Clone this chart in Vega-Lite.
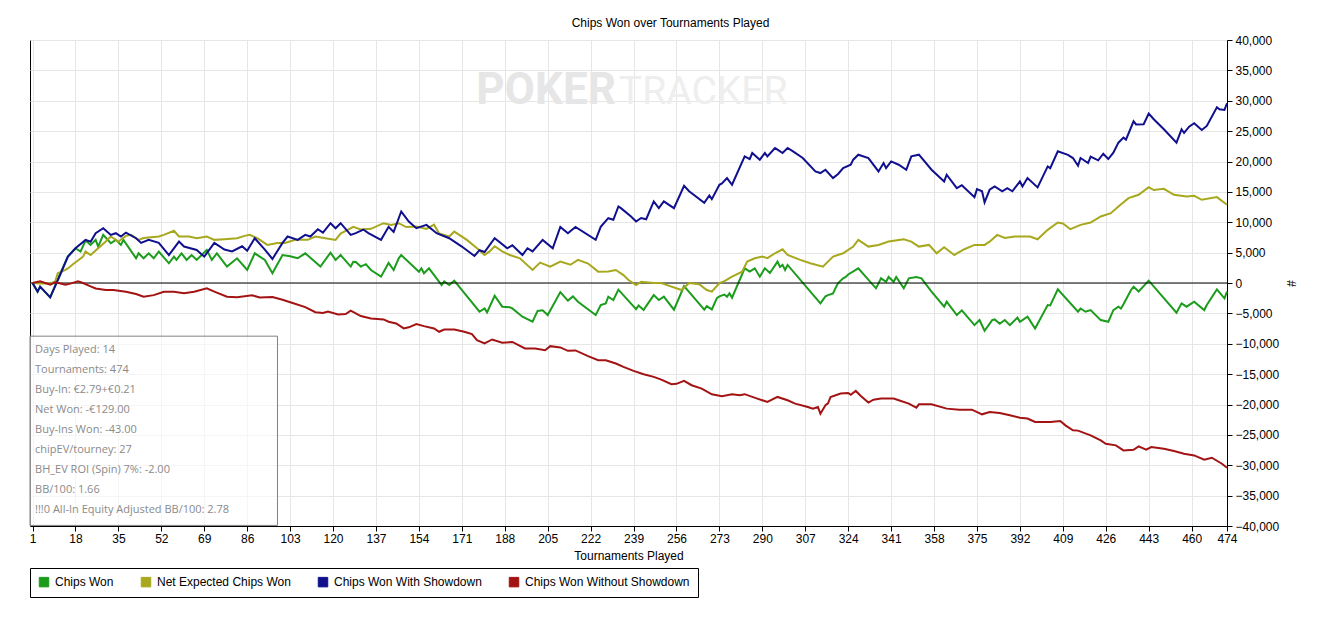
{
  "$schema": "https://vega.github.io/schema/vega-lite/v6.json",
  "width": 1197,
  "height": 486,
  "autosize": "none",
  "padding": {"left": 30, "top": 40, "right": 98, "bottom": 91},
  "background": "white",
  "title": {
    "text": "Chips Won over Tournaments Played",
    "font": "Liberation Sans",
    "fontSize": 12,
    "fontWeight": "normal",
    "color": "black",
    "offset": 4,
    "dx": 42
  },
  "datasets": {
    "won": [
      {"t":1,"chips":0},{"t":3,"chips":-1430},{"t":4,"chips":-600},{"t":8,"chips":-2360},{"t":12,"chips":1600},{"t":15,"chips":4340},{"t":18,"chips":5720},{"t":20,"chips":5170},{"t":22,"chips":6990},{"t":24,"chips":6270},{"t":26,"chips":7100},{"t":27,"chips":5990},{"t":29,"chips":7920},{"t":32,"chips":6545},{"t":34,"chips":7100},{"t":36,"chips":6270},{"t":37,"chips":7100},{"t":42,"chips":4070},{"t":43,"chips":4890},{"t":45,"chips":4070},{"t":47,"chips":4890},{"t":49,"chips":4070},{"t":51,"chips":5170},{"t":55,"chips":3245},{"t":57,"chips":4340},{"t":58,"chips":3800},{"t":60,"chips":4890},{"t":62,"chips":3800},{"t":64,"chips":4600},{"t":66,"chips":3800},{"t":70,"chips":5445},{"t":72,"chips":3800},{"t":74,"chips":4890},{"t":78,"chips":2700},{"t":82,"chips":4070},{"t":86,"chips":2145},{"t":89,"chips":4890},{"t":93,"chips":3800},{"t":96,"chips":1600},{"t":100,"chips":4600},{"t":103,"chips":4400},{"t":106,"chips":4070},{"t":109,"chips":4890},{"t":115,"chips":2700},{"t":119,"chips":5000},{"t":121,"chips":3800},{"t":123,"chips":4600},{"t":127,"chips":2700},{"t":128,"chips":3500},{"t":129,"chips":3450},{"t":131,"chips":2700},{"t":133,"chips":3100},{"t":135,"chips":2145},{"t":139,"chips":1045},{"t":142,"chips":3300},{"t":144,"chips":2145},{"t":146,"chips":4070},{"t":147,"chips":4600},{"t":154,"chips":1870},{"t":155,"chips":2420},{"t":156,"chips":1600},{"t":158,"chips":2420},{"t":163,"chips":-330},{"t":164,"chips":250},{"t":166,"chips":-330},{"t":168,"chips":385},{"t":178,"chips":-4730},{"t":180,"chips":-4180},{"t":181,"chips":-4840},{"t":184,"chips":-2100},{"t":187,"chips":-3900},{"t":190,"chips":-4000},{"t":191,"chips":-4180},{"t":195,"chips":-5555},{"t":199,"chips":-6380},{"t":201,"chips":-4600},{"t":203,"chips":-4500},{"t":205,"chips":-5280},{"t":210,"chips":-1500},{"t":213,"chips":-2900},{"t":215,"chips":-2200},{"t":217,"chips":-3080},{"t":224,"chips":-5280},{"t":226,"chips":-3630},{"t":228,"chips":-3350},{"t":229,"chips":-2255},{"t":231,"chips":-2800},{"t":233,"chips":-1100},{"t":240,"chips":-4300},{"t":241,"chips":-3700},{"t":243,"chips":-4455},{"t":244,"chips":-3800},{"t":247,"chips":-2000},{"t":249,"chips":-2800},{"t":251,"chips":-2255},{"t":255,"chips":-4400},{"t":259,"chips":-495},{"t":267,"chips":-4400},{"t":268,"chips":-3800},{"t":270,"chips":-4345},{"t":272,"chips":-2480},{"t":273,"chips":-2200},{"t":275,"chips":-1900},{"t":276,"chips":-2255},{"t":277,"chips":-1700},{"t":278,"chips":-2420},{"t":283,"chips":2420},{"t":285,"chips":1870},{"t":287,"chips":2420},{"t":289,"chips":1045},{"t":291,"chips":2420},{"t":293,"chips":1650},{"t":296,"chips":3520},{"t":297,"chips":2640},{"t":298,"chips":3000},{"t":299,"chips":2145},{"t":300,"chips":2970},{"t":313,"chips":-3355},{"t":315,"chips":-2200},{"t":316,"chips":-2000},{"t":318,"chips":-1700},{"t":319,"chips":-800},{"t":320,"chips":0},{"t":322,"chips":770},{"t":323,"chips":1000},{"t":324,"chips":1400},{"t":328,"chips":2420},{"t":335,"chips":-880},{"t":337,"chips":770},{"t":339,"chips":200},{"t":340,"chips":1000},{"t":342,"chips":200},{"t":343,"chips":1000},{"t":346,"chips":-880},{"t":348,"chips":770},{"t":351,"chips":990},{"t":353,"chips":770},{"t":357,"chips":-1430},{"t":362,"chips":-3905},{"t":363,"chips":-3080},{"t":367,"chips":-5280},{"t":369,"chips":-4500},{"t":374,"chips":-6930},{"t":376,"chips":-6100},{"t":378,"chips":-7865},{"t":381,"chips":-6105},{"t":382,"chips":-6000},{"t":384,"chips":-6700},{"t":386,"chips":-6100},{"t":388,"chips":-6930},{"t":391,"chips":-5700},{"t":392,"chips":-6400},{"t":395,"chips":-5555},{"t":398,"chips":-7480},{"t":403,"chips":-3630},{"t":404,"chips":-3700},{"t":407,"chips":-1045},{"t":415,"chips":-4730},{"t":416,"chips":-4200},{"t":418,"chips":-4730},{"t":420,"chips":-4455},{"t":424,"chips":-6105},{"t":427,"chips":-6380},{"t":429,"chips":-4455},{"t":431,"chips":-3900},{"t":432,"chips":-4200},{"t":433,"chips":-3500},{"t":436,"chips":-1155},{"t":437,"chips":-600},{"t":439,"chips":-1400},{"t":443,"chips":385},{"t":454,"chips":-4895},{"t":456,"chips":-3350},{"t":458,"chips":-3900},{"t":461,"chips":-3080},{"t":465,"chips":-4455},{"t":466,"chips":-3630},{"t":470,"chips":-1045},{"t":473,"chips":-2530},{"t":474,"chips":-1430}
    ],
    "ev": [
      {"t":1,"chips":0},{"t":4,"chips":-100},{"t":8,"chips":-100},{"t":10,"chips":275},{"t":11,"chips":1600},{"t":14,"chips":2145},{"t":15,"chips":2400},{"t":17,"chips":3080},{"t":19,"chips":3700},{"t":21,"chips":4340},{"t":22,"chips":5170},{"t":24,"chips":4600},{"t":27,"chips":5720},{"t":30,"chips":6820},{"t":32,"chips":7650},{"t":35,"chips":6820},{"t":38,"chips":7755},{"t":40,"chips":7920},{"t":43,"chips":7100},{"t":45,"chips":7400},{"t":51,"chips":7650},{"t":53,"chips":7920},{"t":57,"chips":8600},{"t":59,"chips":7650},{"t":63,"chips":7650},{"t":66,"chips":7370},{"t":70,"chips":7650},{"t":73,"chips":7100},{"t":77,"chips":7200},{"t":82,"chips":7370},{"t":85,"chips":7755},{"t":87,"chips":7920},{"t":90,"chips":7370},{"t":94,"chips":6270},{"t":98,"chips":6600},{"t":101,"chips":6600},{"t":105,"chips":7100},{"t":110,"chips":7100},{"t":113,"chips":7650},{"t":117,"chips":7370},{"t":121,"chips":7100},{"t":123,"chips":8140},{"t":128,"chips":9240},{"t":131,"chips":8800},{"t":135,"chips":8910},{"t":140,"chips":9845},{"t":143,"chips":9570},{"t":146,"chips":9845},{"t":149,"chips":9200},{"t":153,"chips":9300},{"t":157,"chips":8910},{"t":160,"chips":9600},{"t":162,"chips":8140},{"t":166,"chips":7650},{"t":168,"chips":8470},{"t":173,"chips":7100},{"t":177,"chips":5720},{"t":180,"chips":4600},{"t":182,"chips":5200},{"t":184,"chips":6050},{"t":187,"chips":5200},{"t":190,"chips":4600},{"t":194,"chips":4070},{"t":199,"chips":2145},{"t":202,"chips":3355},{"t":206,"chips":2700},{"t":210,"chips":3520},{"t":214,"chips":3000},{"t":217,"chips":3800},{"t":221,"chips":3200},{"t":225,"chips":1870},{"t":229,"chips":1900},{"t":232,"chips":2145},{"t":235,"chips":1300},{"t":237,"chips":495},{"t":240,"chips":-330},{"t":242,"chips":200},{"t":247,"chips":0},{"t":250,"chips":0},{"t":252,"chips":-300},{"t":258,"chips":-1155},{"t":261,"chips":0},{"t":265,"chips":-200},{"t":268,"chips":-1155},{"t":270,"chips":-1430},{"t":273,"chips":0},{"t":275,"chips":300},{"t":278,"chips":1045},{"t":282,"chips":1870},{"t":284,"chips":3520},{"t":287,"chips":4070},{"t":290,"chips":4345},{"t":292,"chips":4100},{"t":295,"chips":4895},{"t":298,"chips":5555},{"t":300,"chips":4620},{"t":305,"chips":3800},{"t":309,"chips":3245},{"t":314,"chips":2700},{"t":318,"chips":4345},{"t":322,"chips":4900},{"t":326,"chips":5995},{"t":328,"chips":7095},{"t":332,"chips":5995},{"t":336,"chips":6270},{"t":340,"chips":6820},{"t":346,"chips":7200},{"t":349,"chips":6820},{"t":352,"chips":5995},{"t":356,"chips":6270},{"t":359,"chips":4895},{"t":362,"chips":5885},{"t":366,"chips":4620},{"t":370,"chips":5555},{"t":374,"chips":6270},{"t":378,"chips":6270},{"t":380,"chips":6800},{"t":383,"chips":7920},{"t":386,"chips":7400},{"t":390,"chips":7650},{"t":396,"chips":7650},{"t":399,"chips":7205},{"t":403,"chips":8745},{"t":407,"chips":9955},{"t":409,"chips":9800},{"t":412,"chips":8855},{"t":416,"chips":9570},{"t":420,"chips":9955},{"t":424,"chips":10945},{"t":428,"chips":11495},{"t":431,"chips":12595},{"t":435,"chips":13970},{"t":439,"chips":14520},{"t":443,"chips":15785},{"t":445,"chips":15300},{"t":449,"chips":15500},{"t":453,"chips":14520},{"t":458,"chips":14245},{"t":461,"chips":14350},{"t":464,"chips":13695},{"t":470,"chips":14135},{"t":474,"chips":12870}
    ],
    "sd": [
      {"t":1,"chips":0},{"t":3,"chips":-1430},{"t":4,"chips":-600},{"t":8,"chips":-2360},{"t":12,"chips":1400},{"t":15,"chips":4340},{"t":18,"chips":5720},{"t":22,"chips":7100},{"t":24,"chips":6800},{"t":26,"chips":8200},{"t":29,"chips":9020},{"t":32,"chips":7920},{"t":34,"chips":8200},{"t":36,"chips":7650},{"t":38,"chips":8300},{"t":42,"chips":7370},{"t":44,"chips":6600},{"t":47,"chips":7100},{"t":51,"chips":6600},{"t":55,"chips":4600},{"t":59,"chips":6820},{"t":61,"chips":6000},{"t":66,"chips":5445},{"t":69,"chips":4340},{"t":73,"chips":6600},{"t":77,"chips":5500},{"t":80,"chips":5200},{"t":84,"chips":6050},{"t":86,"chips":5300},{"t":89,"chips":7370},{"t":93,"chips":5500},{"t":96,"chips":3960},{"t":100,"chips":6600},{"t":102,"chips":7650},{"t":106,"chips":7100},{"t":109,"chips":7920},{"t":111,"chips":7650},{"t":114,"chips":8855},{"t":116,"chips":8300},{"t":119,"chips":9845},{"t":121,"chips":9000},{"t":123,"chips":9845},{"t":127,"chips":7920},{"t":129,"chips":8200},{"t":132,"chips":8800},{"t":134,"chips":8200},{"t":139,"chips":7100},{"t":142,"chips":9240},{"t":144,"chips":8400},{"t":147,"chips":11770},{"t":148,"chips":11200},{"t":150,"chips":10120},{"t":153,"chips":9020},{"t":157,"chips":9570},{"t":161,"chips":8200},{"t":166,"chips":7370},{"t":171,"chips":6000},{"t":176,"chips":4455},{"t":178,"chips":5400},{"t":180,"chips":5100},{"t":184,"chips":7370},{"t":189,"chips":5720},{"t":191,"chips":6200},{"t":195,"chips":4600},{"t":197,"chips":5720},{"t":199,"chips":5200},{"t":203,"chips":7100},{"t":207,"chips":5720},{"t":210,"chips":9240},{"t":213,"chips":8200},{"t":216,"chips":9240},{"t":224,"chips":7100},{"t":226,"chips":9240},{"t":229,"chips":10670},{"t":231,"chips":10400},{"t":233,"chips":12595},{"t":234,"chips":12320},{"t":238,"chips":10945},{"t":240,"chips":10120},{"t":242,"chips":10700},{"t":244,"chips":10500},{"t":247,"chips":13420},{"t":249,"chips":12320},{"t":251,"chips":13420},{"t":255,"chips":12320},{"t":259,"chips":15995},{"t":261,"chips":15100},{"t":267,"chips":13200},{"t":269,"chips":14400},{"t":270,"chips":13800},{"t":273,"chips":16170},{"t":274,"chips":16400},{"t":276,"chips":17270},{"t":278,"chips":16170},{"t":283,"chips":20845},{"t":285,"chips":20400},{"t":286,"chips":21395},{"t":289,"chips":20295},{"t":291,"chips":21395},{"t":292,"chips":20845},{"t":295,"chips":22220},{"t":296,"chips":21950},{"t":298,"chips":21395},{"t":300,"chips":22220},{"t":302,"chips":21700},{"t":306,"chips":20570},{"t":311,"chips":18370},{"t":313,"chips":18095},{"t":315,"chips":18645},{"t":318,"chips":17270},{"t":320,"chips":17950},{"t":322,"chips":18920},{"t":325,"chips":19470},{"t":326,"chips":20300},{"t":328,"chips":21120},{"t":332,"chips":20570},{"t":336,"chips":18370},{"t":338,"chips":19745},{"t":339,"chips":18900},{"t":341,"chips":20020},{"t":344,"chips":19470},{"t":347,"chips":18645},{"t":349,"chips":20845},{"t":352,"chips":21120},{"t":357,"chips":18645},{"t":362,"chips":16720},{"t":363,"chips":17820},{"t":367,"chips":15620},{"t":369,"chips":16100},{"t":374,"chips":14135},{"t":375,"chips":15455},{"t":377,"chips":15100},{"t":378,"chips":13255},{"t":380,"chips":15345},{"t":382,"chips":15895},{"t":385,"chips":15100},{"t":387,"chips":15620},{"t":389,"chips":15100},{"t":392,"chips":16720},{"t":393,"chips":15900},{"t":395,"chips":17270},{"t":399,"chips":15730},{"t":403,"chips":19195},{"t":404,"chips":18900},{"t":407,"chips":21670},{"t":411,"chips":21100},{"t":413,"chips":20570},{"t":415,"chips":19305},{"t":416,"chips":20570},{"t":419,"chips":19745},{"t":420,"chips":20800},{"t":423,"chips":20200},{"t":425,"chips":21285},{"t":427,"chips":20405},{"t":429,"chips":21450},{"t":431,"chips":23100},{"t":433,"chips":23925},{"t":434,"chips":23600},{"t":437,"chips":26620},{"t":438,"chips":26100},{"t":441,"chips":26125},{"t":443,"chips":27885},{"t":445,"chips":26950},{"t":449,"chips":25300},{"t":454,"chips":23100},{"t":456,"chips":25300},{"t":457,"chips":24700},{"t":459,"chips":25740},{"t":461,"chips":26290},{"t":464,"chips":25190},{"t":466,"chips":25850},{"t":470,"chips":28930},{"t":471,"chips":28600},{"t":473,"chips":28490},{"t":474,"chips":29590}
    ],
    "nosd": [
      {"t":1,"chips":0},{"t":4,"chips":275},{"t":8,"chips":-275},{"t":10,"chips":100},{"t":14,"chips":-275},{"t":16,"chips":-100},{"t":19,"chips":275},{"t":21,"chips":0},{"t":24,"chips":-550},{"t":26,"chips":-900},{"t":30,"chips":-1155},{"t":33,"chips":-1155},{"t":38,"chips":-1430},{"t":42,"chips":-1815},{"t":45,"chips":-2255},{"t":49,"chips":-2000},{"t":53,"chips":-1430},{"t":57,"chips":-1430},{"t":61,"chips":-1705},{"t":65,"chips":-1430},{"t":70,"chips":-880},{"t":73,"chips":-1430},{"t":78,"chips":-2255},{"t":82,"chips":-2350},{"t":88,"chips":-2035},{"t":91,"chips":-2400},{"t":96,"chips":-2310},{"t":100,"chips":-2750},{"t":104,"chips":-3300},{"t":109,"chips":-3960},{"t":113,"chips":-4800},{"t":116,"chips":-4950},{"t":118,"chips":-4700},{"t":122,"chips":-5170},{"t":125,"chips":-5100},{"t":127,"chips":-4565},{"t":131,"chips":-5445},{"t":135,"chips":-5830},{"t":140,"chips":-6000},{"t":142,"chips":-6380},{"t":145,"chips":-6655},{"t":148,"chips":-7480},{"t":150,"chips":-7300},{"t":153,"chips":-6765},{"t":156,"chips":-7100},{"t":160,"chips":-7480},{"t":162,"chips":-8030},{"t":164,"chips":-7650},{"t":168,"chips":-7650},{"t":172,"chips":-8030},{"t":175,"chips":-8415},{"t":177,"chips":-9405},{"t":180,"chips":-9955},{"t":183,"chips":-9295},{"t":187,"chips":-9845},{"t":191,"chips":-9700},{"t":196,"chips":-10780},{"t":200,"chips":-10780},{"t":204,"chips":-11055},{"t":206,"chips":-10395},{"t":210,"chips":-10600},{"t":213,"chips":-11165},{"t":216,"chips":-11100},{"t":221,"chips":-12045},{"t":225,"chips":-12705},{"t":228,"chips":-12705},{"t":232,"chips":-13255},{"t":235,"chips":-13805},{"t":239,"chips":-14465},{"t":243,"chips":-15015},{"t":247,"chips":-15455},{"t":250,"chips":-15895},{"t":254,"chips":-16665},{"t":256,"chips":-16600},{"t":259,"chips":-16115},{"t":262,"chips":-16830},{"t":266,"chips":-17380},{"t":270,"chips":-18315},{"t":274,"chips":-18645},{"t":278,"chips":-18315},{"t":281,"chips":-18480},{"t":283,"chips":-18300},{"t":288,"chips":-19030},{"t":292,"chips":-19580},{"t":296,"chips":-18755},{"t":300,"chips":-19305},{"t":303,"chips":-19855},{"t":308,"chips":-20405},{"t":310,"chips":-20680},{"t":312,"chips":-20400},{"t":313,"chips":-21505},{"t":315,"chips":-20130},{"t":316,"chips":-19800},{"t":317,"chips":-18755},{"t":321,"chips":-18205},{"t":324,"chips":-18095},{"t":325,"chips":-18400},{"t":327,"chips":-17765},{"t":329,"chips":-18600},{"t":332,"chips":-19690},{"t":334,"chips":-19200},{"t":337,"chips":-19030},{"t":342,"chips":-19030},{"t":344,"chips":-19300},{"t":348,"chips":-19855},{"t":351,"chips":-20515},{"t":352,"chips":-19965},{"t":357,"chips":-19965},{"t":363,"chips":-20680},{"t":368,"chips":-20845},{"t":373,"chips":-20845},{"t":377,"chips":-21615},{"t":380,"chips":-21230},{"t":384,"chips":-21400},{"t":388,"chips":-21780},{"t":392,"chips":-22165},{"t":395,"chips":-22300},{"t":398,"chips":-22880},{"t":404,"chips":-22880},{"t":408,"chips":-22715},{"t":410,"chips":-23430},{"t":413,"chips":-24255},{"t":415,"chips":-24300},{"t":420,"chips":-25080},{"t":424,"chips":-25905},{"t":426,"chips":-26455},{"t":430,"chips":-26730},{"t":433,"chips":-27555},{"t":437,"chips":-27445},{"t":439,"chips":-26895},{"t":442,"chips":-27445},{"t":444,"chips":-27000},{"t":449,"chips":-27280},{"t":453,"chips":-27665},{"t":457,"chips":-28100},{"t":461,"chips":-28380},{"t":465,"chips":-29100},{"t":468,"chips":-28765},{"t":472,"chips":-29755},{"t":474,"chips":-30400}
    ],
    "stats": [
      {"label": "Days Played: 14\nTournaments: 474\nBuy-In: €2.79+€0.21\nNet Won: -€129.00\nBuy-Ins Won: -43.00\nchipEV/tourney: 27\nBH_EV ROI (Spin) 7%: -2.00\nBB/100: 1.66\n!!!0 All-In Equity Adjusted BB/100: 2.78"}
    ]
  },
  "layer": [
    {
      "data": {"name": "won"},
      "mark": {"type": "line", "strokeWidth": 2},
      "encoding": {
        "x": {
          "field": "t", "type": "quantitative",
          "scale": {"domain": [0, 474], "nice": false, "zero": false},
          "axis": {
            "title": "Tournaments Played",
            "values": [1, 18, 35, 52, 69, 86, 103, 120, 137, 154, 171, 188, 205, 222, 239, 256, 273, 290, 307, 324, 341, 358, 375, 392, 409, 426, 443, 460, 474],
            "labelFlush": false,
            "labelOverlap": false,
            "labelPadding": 2,
            "titlePadding": 6
          }
        },
        "y": {
          "field": "chips", "type": "quantitative",
          "scale": {"domain": [-40000, 40000], "nice": false, "zero": false},
          "axis": {"orient": "right", "title": "#", "values": [-40000, -35000, -30000, -25000, -20000, -15000, -10000, -5000, 0, 5000, 10000, 15000, 20000, 25000, 30000, 35000, 40000], "format": ",.0f", "labelOverlap": false, "labelPadding": 3, "titlePadding": 5}
        },
        "color": {
          "datum": "Chips Won",
          "type": "nominal",
          "scale": {
            "domain": ["Chips Won", "Net Expected Chips Won", "Chips Won With Showdown", "Chips Won Without Showdown"],
            "range": ["#1c9c1c", "#a8a81e", "#10108f", "#a31313"]
          },
          "legend": {
            "title": null,
            "orient": "none",
            "legendX": 0,
            "legendY": 528,
            "direction": "horizontal",
            "columns": 4,
            "columnPadding": 25,
            "symbolType": "square",
            "symbolSize": 90,
            "labelOffset": 5,
            "labelLimit": 400,
            "padding": 8,
            "strokeColor": "black",
            "fillColor": "white",
            "labelFont": "Liberation Sans",
            "labelFontSize": 12,
            "labelColor": "black",
            "encode": {
              "symbols": {
                "update": {
                  "fill": {"scale": "color", "field": "value"},
                  "stroke": {"value": "black"},
                  "strokeWidth": {"value": 1},
                  "opacity": {"value": 1}
                }
              }
            }
          }
        }
      }
    },
    {
      "data": {"values": [{"w": "POKER"}]},
      "mark": {"type": "text", "align": "right", "baseline": "alphabetic", "font": "Roboto", "fontSize": 44, "fontWeight": "bold", "color": "#e6e6e6"},
      "encoding": {
        "x": {"datum": 232, "type": "quantitative"},
        "y": {"datum": 29460, "type": "quantitative", "axis": {"orient": "right", "title": "#", "values": [-40000, -35000, -30000, -25000, -20000, -15000, -10000, -5000, 0, 5000, 10000, 15000, 20000, 25000, 30000, 35000, 40000], "format": ",.0f", "labelOverlap": false, "labelPadding": 3, "titlePadding": 5}},
        "text": {"field": "w"}
      }
    },
    {
      "data": {"values": [{"w": "TRACKER"}]},
      "mark": {"type": "text", "align": "left", "baseline": "alphabetic", "dx": 3, "font": "Roboto", "fontSize": 39, "fontWeight": "normal", "color": "#eeeeee"},
      "encoding": {
        "x": {"datum": 232, "type": "quantitative"},
        "y": {"datum": 29460, "type": "quantitative", "axis": {"orient": "right", "title": "#", "values": [-40000, -35000, -30000, -25000, -20000, -15000, -10000, -5000, 0, 5000, 10000, 15000, 20000, 25000, 30000, 35000, 40000], "format": ",.0f", "labelOverlap": false, "labelPadding": 3, "titlePadding": 5}},
        "text": {"field": "w"}
      }
    },
    {
      "data": {"values": [{}]},
      "mark": {"type": "rule", "color": "black", "strokeWidth": 1},
      "encoding": {"y": {"datum": 0, "type": "quantitative", "axis": {"orient": "right", "title": "#", "values": [-40000, -35000, -30000, -25000, -20000, -15000, -10000, -5000, 0, 5000, 10000, 15000, 20000, 25000, 30000, 35000, 40000], "format": ",.0f", "labelOverlap": false, "labelPadding": 3, "titlePadding": 5}}}
    },
    {
      "data": {"name": "ev"},
      "mark": {"type": "line", "strokeWidth": 2},
      "encoding": {
        "x": {"field": "t", "type": "quantitative"},
        "y": {"field": "chips", "type": "quantitative", "axis": {"orient": "right", "title": "#", "values": [-40000, -35000, -30000, -25000, -20000, -15000, -10000, -5000, 0, 5000, 10000, 15000, 20000, 25000, 30000, 35000, 40000], "format": ",.0f", "labelOverlap": false, "labelPadding": 3, "titlePadding": 5}},
        "color": {"datum": "Net Expected Chips Won", "type": "nominal"}
      }
    },
    {
      "data": {"name": "sd"},
      "mark": {"type": "line", "strokeWidth": 2},
      "encoding": {
        "x": {"field": "t", "type": "quantitative"},
        "y": {"field": "chips", "type": "quantitative", "axis": {"orient": "right", "title": "#", "values": [-40000, -35000, -30000, -25000, -20000, -15000, -10000, -5000, 0, 5000, 10000, 15000, 20000, 25000, 30000, 35000, 40000], "format": ",.0f", "labelOverlap": false, "labelPadding": 3, "titlePadding": 5}},
        "color": {"datum": "Chips Won With Showdown", "type": "nominal"}
      }
    },
    {
      "data": {"name": "nosd"},
      "mark": {"type": "line", "strokeWidth": 2},
      "encoding": {
        "x": {"field": "t", "type": "quantitative"},
        "y": {"field": "chips", "type": "quantitative", "axis": {"orient": "right", "title": "#", "values": [-40000, -35000, -30000, -25000, -20000, -15000, -10000, -5000, 0, 5000, 10000, 15000, 20000, 25000, 30000, 35000, 40000], "format": ",.0f", "labelOverlap": false, "labelPadding": 3, "titlePadding": 5}},
        "color": {"datum": "Chips Won Without Showdown", "type": "nominal"}
      }
    },
    {
      "data": {"values": [{}]},
      "mark": {"type": "rect", "fill": "white", "fillOpacity": 0.6, "stroke": "#808080", "strokeWidth": 1},
      "encoding": {
        "x": {"datum": 0, "type": "quantitative"},
        "x2": {"datum": 98},
        "y": {"datum": -8750, "type": "quantitative", "axis": {"orient": "right", "title": "#", "values": [-40000, -35000, -30000, -25000, -20000, -15000, -10000, -5000, 0, 5000, 10000, 15000, 20000, 25000, 30000, 35000, 40000], "format": ",.0f", "labelOverlap": false, "labelPadding": 3, "titlePadding": 5}},
        "y2": {"datum": -39900}
      }
    },
    {
      "data": {"name": "stats"},
      "mark": {"type": "text", "align": "left", "baseline": "alphabetic", "lineBreak": "\n", "lineHeight": 20, "font": "Open Sans", "fontSize": 11, "color": "#8a8a8a"},
      "encoding": {
        "x": {"datum": 2, "type": "quantitative"},
        "y": {"datum": -11500, "type": "quantitative", "axis": {"orient": "right", "title": "#", "values": [-40000, -35000, -30000, -25000, -20000, -15000, -10000, -5000, 0, 5000, 10000, 15000, 20000, 25000, 30000, 35000, 40000], "format": ",.0f", "labelOverlap": false, "labelPadding": 3, "titlePadding": 5}},
        "text": {"field": "label"}
      }
    }
  ],
  "config": {
    "view": {"stroke": "black", "strokeWidth": 1},
    "axis": {
      "labelFont": "Liberation Sans",
      "labelFontSize": 12,
      "labelColor": "black",
      "titleFont": "Liberation Sans",
      "titleFontSize": 12,
      "titleFontWeight": "normal",
      "titleColor": "black",
      "domainColor": "black",
      "tickColor": "black",
      "tickSize": 5,
      "gridColor": "#e6e6e6",
      "grid": true
    }
  }
}
